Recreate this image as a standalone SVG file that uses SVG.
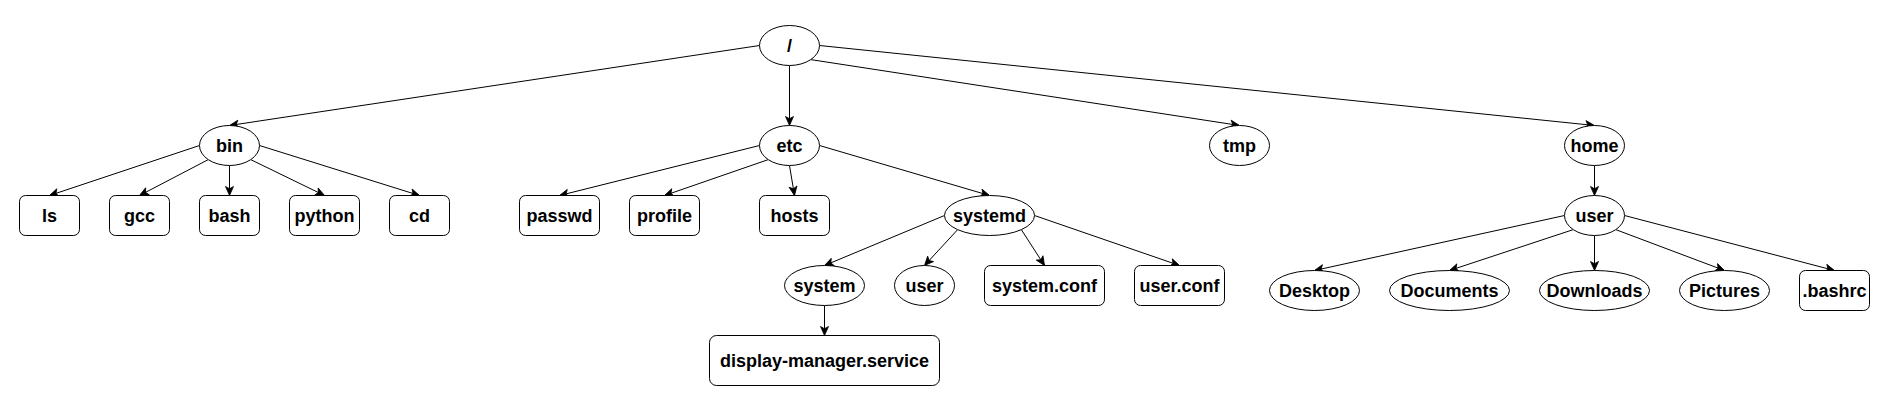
<svg xmlns="http://www.w3.org/2000/svg" width="1879" height="401" viewBox="0 0 1879 401">
<style>
  .n ellipse, .n rect { fill: #ffffff; stroke: #000000; stroke-width: 1; }
  .n text { font-family: "Liberation Sans", Arial, sans-serif; font-weight: bold; font-size: 18px; text-anchor: middle; fill: #000000; }
  #edges path { fill: none; stroke: #000000; stroke-width: 1; marker-end: url(#arrow); }
</style>
<defs>
  <marker id="arrow" markerUnits="userSpaceOnUse" markerWidth="10" markerHeight="10" viewBox="0 0 10 10" refX="10" refY="5" orient="auto">
    <path d="M1,1 L10,5 L1,9 L3.2,5 Z" fill="#000000" stroke="#000000" stroke-width="0.8" stroke-linejoin="miter"/>
  </marker>
</defs>
<rect x="0" y="0" width="1879" height="401" fill="#ffffff"/>
<g id="edges">
  <path d="M759.5,45.5 L229.5,125.5"/>
  <path d="M789.5,65.5 L789.5,125.5"/>
  <path d="M810.7,59.6 L1239.5,125.5"/>
  <path d="M819.5,45.5 L1594.5,125.5"/>
  <path d="M199.5,145.5 L49.5,195.5"/>
  <path d="M208.3,159.6 L139.5,195.5"/>
  <path d="M229.5,165.5 L229.5,195.5"/>
  <path d="M250.7,159.6 L324.5,195.5"/>
  <path d="M259.5,145.5 L419.5,195.5"/>
  <path d="M759.5,145.5 L559.5,195.5"/>
  <path d="M768.3,159.6 L664.5,195.5"/>
  <path d="M789.5,165.5 L794.5,195.5"/>
  <path d="M819.5,145.5 L989.5,195.5"/>
  <path d="M944.5,215.5 L824.5,265.5"/>
  <path d="M957.7,229.6 L924.5,265.5"/>
  <path d="M1021.3,229.6 L1044.5,265.5"/>
  <path d="M1034.5,215.5 L1179.5,265.5"/>
  <path d="M824.5,305.5 L824.5,335.5"/>
  <path d="M1594.5,165.5 L1594.5,195.5"/>
  <path d="M1564.5,215.5 L1314.5,270.5"/>
  <path d="M1573.3,229.6 L1449.5,270.5"/>
  <path d="M1594.5,235.5 L1594.5,270.5"/>
  <path d="M1615.7,229.6 L1724.5,270.5"/>
  <path d="M1624.5,215.5 L1834.5,270.5"/>
</g>
<g id="root" class="n"><ellipse cx="789.5" cy="45.5" rx="30" ry="20"/><text x="789.5" y="52">/</text></g>
<g id="bin" class="n"><ellipse cx="229.5" cy="145.5" rx="30" ry="20"/><text x="229.5" y="152">bin</text></g>
<g id="etc" class="n"><ellipse cx="789.5" cy="145.5" rx="30" ry="20"/><text x="789.5" y="152">etc</text></g>
<g id="tmp" class="n"><ellipse cx="1239.5" cy="145.5" rx="30" ry="20"/><text x="1239.5" y="152">tmp</text></g>
<g id="home" class="n"><ellipse cx="1594.5" cy="145.5" rx="30" ry="20"/><text x="1594.5" y="152">home</text></g>
<g id="ls" class="n"><rect x="19.5" y="195.5" width="60" height="40" rx="6"/><text x="49.5" y="222">ls</text></g>
<g id="gcc" class="n"><rect x="109.5" y="195.5" width="60" height="40" rx="6"/><text x="139.5" y="222">gcc</text></g>
<g id="bash" class="n"><rect x="199.5" y="195.5" width="60" height="40" rx="6"/><text x="229.5" y="222">bash</text></g>
<g id="python" class="n"><rect x="289.5" y="195.5" width="70" height="40" rx="6"/><text x="324.5" y="222">python</text></g>
<g id="cd" class="n"><rect x="389.5" y="195.5" width="60" height="40" rx="6"/><text x="419.5" y="222">cd</text></g>
<g id="passwd" class="n"><rect x="519.5" y="195.5" width="80" height="40" rx="6"/><text x="559.5" y="222">passwd</text></g>
<g id="profile" class="n"><rect x="629.5" y="195.5" width="70" height="40" rx="6"/><text x="664.5" y="222">profile</text></g>
<g id="hosts" class="n"><rect x="759.5" y="195.5" width="70" height="40" rx="6"/><text x="794.5" y="222">hosts</text></g>
<g id="systemd" class="n"><ellipse cx="989.5" cy="215.5" rx="45" ry="20"/><text x="989.5" y="222">systemd</text></g>
<g id="home-user" class="n"><ellipse cx="1594.5" cy="215.5" rx="30" ry="20"/><text x="1594.5" y="222">user</text></g>
<g id="system" class="n"><ellipse cx="824.5" cy="285.5" rx="40" ry="20"/><text x="824.5" y="292">system</text></g>
<g id="systemd-user" class="n"><ellipse cx="924.5" cy="285.5" rx="30" ry="20"/><text x="924.5" y="292">user</text></g>
<g id="system-conf" class="n"><rect x="984.5" y="265.5" width="120" height="40" rx="6"/><text x="1044.5" y="292">system.conf</text></g>
<g id="user-conf" class="n"><rect x="1134.5" y="265.5" width="90" height="40" rx="6"/><text x="1179.5" y="292">user.conf</text></g>
<g id="display-manager" class="n"><rect x="709.5" y="335.5" width="230" height="50" rx="7"/><text x="824.5" y="367">display-manager.service</text></g>
<g id="desktop" class="n"><ellipse cx="1314.5" cy="290.5" rx="45" ry="20"/><text x="1314.5" y="297">Desktop</text></g>
<g id="documents" class="n"><ellipse cx="1449.5" cy="290.5" rx="60" ry="20"/><text x="1449.5" y="297">Documents</text></g>
<g id="downloads" class="n"><ellipse cx="1594.5" cy="290.5" rx="55" ry="20"/><text x="1594.5" y="297">Downloads</text></g>
<g id="pictures" class="n"><ellipse cx="1724.5" cy="290.5" rx="45" ry="20"/><text x="1724.5" y="297">Pictures</text></g>
<g id="bashrc" class="n"><rect x="1799.5" y="270.5" width="70" height="40" rx="6"/><text x="1834.5" y="297">.bashrc</text></g>
</svg>
